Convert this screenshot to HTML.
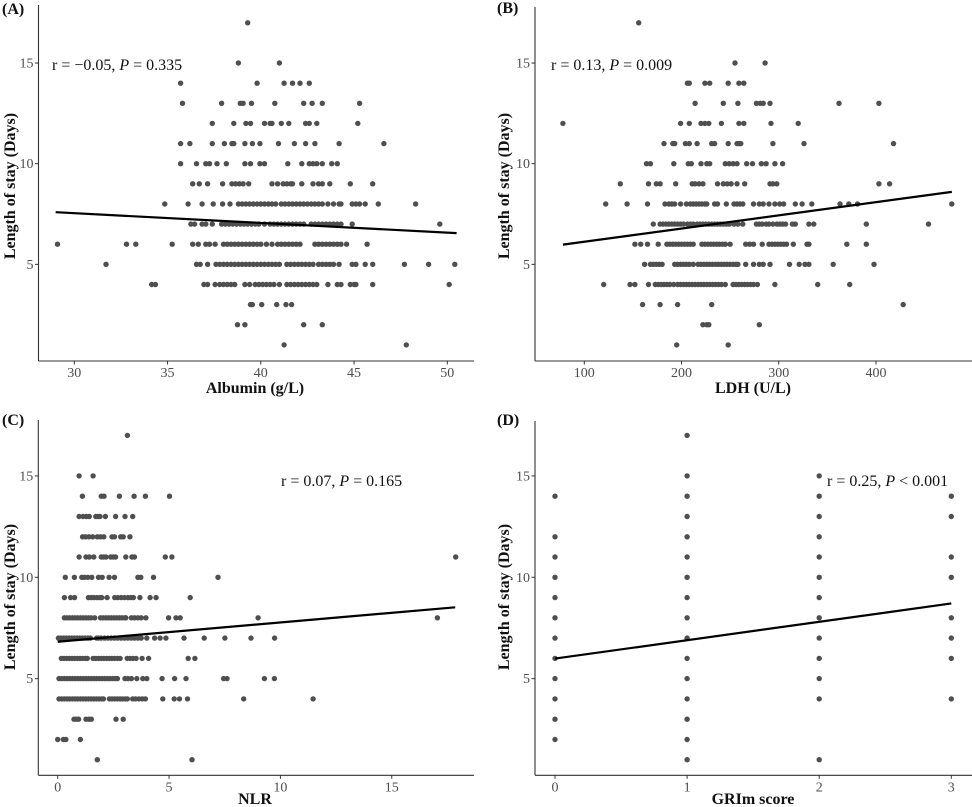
<!DOCTYPE html>
<html><head><meta charset="utf-8">
<style>
html,body{margin:0;padding:0;background:#fff;}
svg{display:block;font-family:"Liberation Serif",serif;}
</style></head>
<body>
<svg id="fig" width="972" height="807" viewBox="0 0 972 807" xmlns="http://www.w3.org/2000/svg"></svg>
<script>
// ---- Panel A: Albumin vs LOS, rows = [los, [albumin values]]
const albuminRows = [
[17,[39.3]],[15,[38.8,41.0]],[14,[35.7,39.8,41.25,41.7,42.1,42.6]],
[13,[35.8,37.9,38.9,39.05,39.5,40.75,42.3,42.75,43.3,45.3]],
[12,[37.4,38.55,39.2,39.45,40.2,40.5,40.6,41.1,41.5,42.4,42.6,43.0,45.2]],
[11,[35.7,36.2,37.4,38.05,38.45,38.55,39.15,39.55,39.95,40.95,41.8,42.4,42.9,44.2,46.6]],
[10,[35.7,36.55,37.05,37.25,37.65,38.15,39.15,39.45,39.95,40.2,41.45,42.2,42.6,42.8,43.0,43.3,43.8,44.1]],
[9,[36.35,36.7,37.15,37.95,38.45,38.65,38.85,39.05,39.35,40.6,40.9,41.2,41.4,41.6,41.7,42.2,42.8,43.1,43.3,43.7,44.8,46.0]],
[8,[34.85,36.1,36.85,37.45,37.95,38.35,38.8,39.0,39.2,39.4,39.6,39.8,40.0,40.2,40.4,40.6,40.8,41.1,41.3,41.5,41.7,41.9,42.1,42.3,42.5,42.7,42.9,43.1,43.3,43.6,43.9,44.2,44.3,44.9,45.1,45.3,45.6,46.3,48.3]],
[7,[36.25,36.45,36.85,37.05,37.4,37.9,38.1,38.3,38.5,38.7,38.9,39.1,39.3,39.5,39.7,39.9,40.2,40.5,40.7,40.9,41.1,41.3,41.5,41.7,41.9,42.1,42.3,42.7,42.9,43.1,43.3,43.5,43.7,43.9,44.1,44.3,44.9,49.6]],
[6,[29.1,32.8,33.3,35.25,36.35,36.65,37.05,37.25,37.55,38.0,38.2,38.4,38.6,38.8,39.0,39.2,39.4,39.6,39.8,40.0,40.3,40.6,40.9,41.1,41.3,41.5,41.7,41.9,42.1,42.9,43.1,43.3,43.5,43.7,43.9,44.1,44.3,44.6,45.7]],
[5,[31.7,36.55,36.75,37.15,37.6,37.8,38.0,38.2,38.4,38.6,38.8,39.0,39.2,39.4,39.6,39.8,40.0,40.2,40.4,40.6,40.8,41.0,41.4,41.6,41.8,42.0,42.2,42.4,42.6,42.8,43.1,43.3,43.5,43.7,43.9,44.2,44.9,45.1,45.6,46.0,47.7,49.0,50.4]],
[4,[34.15,34.35,36.95,37.15,37.55,37.8,38.0,38.2,38.4,38.6,39.15,39.4,39.7,39.9,40.1,40.3,40.5,40.7,41.0,41.4,41.6,41.8,42.0,42.2,42.4,42.6,42.8,43.0,43.6,44.1,44.3,44.8,45.0,45.1,46.0,50.1]],
[3,[39.45,39.55,40.05,40.85,41.35,41.65]],[2,[38.75,39.15,42.3,43.3]],[1,[41.25,47.8]]
];
const albuminTicks = [30,35,40,45,50];
const albuminFit = [[29.0,7.59],[50.5,6.55]];

// ---- Panel B: LDH vs LOS
const ldhRows = [
[17,[156]],[15,[255,286]],[14,[206,208,224,229,248,259,264]],
[13,[214,243,258,277,281,284,291,362,403]],
[12,[78,199,208,220,224,228,241,259,264,292,320]],
[11,[182,191,193,204,208,216,231,234,248,257,259,261,294,326,418]],
[10,[164,168,192,207,210,220,226,229,245,249,253,257,267,273,282,287,296,304]],
[9,[137,166,174,178,194,211,214,218,222,237,243,247,251,257,265,291,294,298,403,414]],
[8,[122,144,165,183,187,190,193,199,205,209,212,215,218,221,224,226,234,237,246,254,257,260,263,274,280,284,290,296,301,305,317,324,334,363,372,381,478]],
[7,[171,178,181,184,187,190,193,196,199,202,206,209,212,216,219,222,225,228,231,234,237,240,243,246,249,254,258,263,277,280,283,287,290,294,298,301,304,307,314,317,331,336,390,454]],
[6,[152,158,165,176,185,188,191,194,197,200,203,206,209,212,221,224,227,230,233,236,239,242,245,250,266,270,274,283,290,293,296,299,302,305,308,315,329,331,370,390]],
[5,[162,168,171,174,177,180,193,196,199,202,205,208,212,217,220,223,226,229,232,235,238,241,244,247,250,253,256,258,266,274,280,284,291,311,321,327,331,356,398]],
[4,[120,147,152,166,173,176,179,182,185,188,192,196,199,202,205,208,211,214,217,220,223,226,229,232,235,238,241,245,253,256,259,262,265,268,271,274,278,296,340,373]],
[3,[160,178,196,231,428]],[2,[222,226,228,280]],[1,[195,248]]
];
const ldhTicks = [100,200,300,400];
const ldhFit = [[78,5.98],[478,8.6]];

// ---- Panel C: NLR vs LOS
const nlrRows = [
[17,[3.13]],[15,[0.96,1.59]],[14,[1.11,1.96,2.08,2.77,3.43,3.94,5.02]],
[13,[0.96,1.14,1.29,1.42,1.71,1.81,1.9,2.14,2.6,3.02,3.37]],
[12,[1.12,1.25,1.4,1.57,1.78,1.92,2.07,2.44,2.55,2.83,2.94,3.24]],
[11,[0.96,1.27,1.42,1.62,1.96,2.05,2.17,2.38,2.5,2.6,3.06,3.33,3.45,4.83,5.13,17.87]],
[10,[0.34,0.75,1.08,1.2,1.35,1.53,1.83,2.0,2.31,2.55,3.6,3.73,4.3,7.2]],
[9,[0.3,0.58,0.76,1.38,1.5,1.62,1.75,1.88,1.98,2.22,2.56,2.7,2.85,3.0,3.15,3.28,3.4,3.69,4.15,4.42,5.95]],
[8,[0.3,0.42,0.54,0.66,0.78,0.9,1.02,1.14,1.26,1.38,1.5,1.66,1.92,2.04,2.16,2.28,2.4,2.52,2.64,2.76,2.88,3.0,3.06,3.31,3.45,3.6,3.75,3.96,4.98,5.31,5.5,9.0,17.05]],
[7,[0.03,0.15,0.27,0.39,0.51,0.63,0.75,0.87,0.99,1.11,1.23,1.35,1.47,1.75,1.83,1.95,2.1,2.25,2.4,2.55,2.7,2.85,3.0,3.15,3.3,3.45,3.6,3.75,4.0,4.35,4.6,4.86,5.67,6.58,7.51,8.68,9.74]],
[6,[0.16,0.28,0.4,0.52,0.64,0.76,0.88,1.0,1.12,1.24,1.33,1.59,1.71,1.83,1.95,2.07,2.19,2.31,2.43,2.55,2.68,2.8,3.12,3.25,3.38,3.52,3.79,4.08,5.86,6.16]],
[5,[0.06,0.18,0.3,0.42,0.54,0.66,0.78,0.9,1.02,1.14,1.26,1.38,1.5,1.62,1.74,1.86,1.98,2.1,2.22,2.34,2.46,2.58,2.68,3.02,3.15,3.31,3.55,3.82,4.0,4.69,5.25,5.76,7.45,7.6,9.28,9.73]],
[4,[0.06,0.18,0.3,0.42,0.54,0.66,0.78,0.9,1.02,1.14,1.26,1.38,1.5,1.62,1.74,1.86,1.98,2.05,2.32,2.44,2.56,2.68,2.8,2.92,3.04,3.13,3.37,3.5,3.65,3.8,3.94,4.72,5.23,5.47,5.83,8.35,11.47]],
[3,[0.73,0.84,0.94,1.27,1.4,1.51,2.62,2.94]],[2,[0.0,0.25,0.37,1.02]],[1,[1.78,6.03]]
];
const nlrTicks = [0,5,10,15];
const nlrFit = [[0,6.82],[17.85,8.52]];

// ---- Panel D: GRIm score vs LOS
const grimRows = [
[17,[1]],[15,[1,2]],[14,[0,1,2,3]],[13,[1,2,3]],[12,[0,1,2]],[11,[0,1,2,3]],
[10,[0,1,2,3]],[9,[0,1,2]],[8,[0,1,2,3]],[7,[0,1,2,3]],[6,[0,1,2,3]],
[5,[0,1,2]],[4,[0,1,2,3]],[3,[0,1]],[2,[0,1]],[1,[1,2]]
];
const grimTicks = [0,1,2,3];
const grimFit = [[0,5.99],[3,8.71]];

const losTicks = [5,10,15];

const NS = "http://www.w3.org/2000/svg";
const svg = document.getElementById('fig');
function mk(tag, attrs, parent){ const e=document.createElementNS(NS,tag); for(const k in attrs) e.setAttribute(k,attrs[k]); (parent||svg).appendChild(e); return e; }

const panels = [
 {id:'a', tag:'(A)', tagX:2, tagY:14, rows:albuminRows, ticks:albuminTicks, fit:albuminFit,
  x0:30, px0:74.3, kx:18.65, axL:38.5, axR:474, axT:5, axB:361, y10:163.7, ky:20.13,
  xlab:'Albumin (g/L)', xlabX:255, xlabY:393, ylabX:15, ylabY:186,
  ann:['r = −0.05, ','0.335'], annX:52, annY:70},
 {id:'b', tag:'(B)', tagX:497, tagY:13, rows:ldhRows, ticks:ldhTicks, fit:ldhFit,
  x0:100, px0:584.3, kx:0.9723, axL:535, axR:972, axT:7, axB:361, y10:163.7, ky:20.13,
  xlab:'LDH (U/L)', xlabX:753, xlabY:393, ylabX:509, ylabY:186,
  ann:['r = 0.13, ','0.009'], annX:551, annY:70},
 {id:'c', tag:'(C)', tagX:2, tagY:425, rows:nlrRows, ticks:nlrTicks, fit:nlrFit,
  x0:0, px0:57.7, kx:22.27, axL:38.3, axR:474, axT:420, axB:775.3, y10:577.3, ky:20.27,
  xlab:'NLR', xlabX:255, xlabY:804, ylabX:15, ylabY:597,
  ann:['r = 0.07, ','0.165'], annX:281, annY:486},
 {id:'d', tag:'(D)', tagX:497, tagY:425, rows:grimRows, ticks:grimTicks, fit:grimFit,
  x0:0, px0:555, kx:132.1, axL:535, axR:972, axT:421, axB:775.3, y10:577.3, ky:20.27,
  xlab:'GRIm score', xlabX:753, xlabY:804, ylabX:509, ylabY:597,
  ann:['r = 0.25, ','< 0.001'], annX:827, annY:486}
];

panels.forEach(p=>{
  const xs = v => p.px0 + (v - p.x0)*p.kx;
  const ys = d => p.y10 - (d - 10)*p.ky;
  const g = mk('g',{});
  
  

  const tg = mk('text',{x:p.tagX,y:p.tagY,'font-size':16,'font-weight':'bold',fill:'#111'},g);
  tg.textContent = p.tag;
  
  

  // points
  const pts = mk('g',{fill:'#4f4f4f'},g);
  
  
  p.rows.forEach(r=>{
    r[1].forEach(v=>{
      const c = mk('circle',{cx:xs(v).toFixed(1), cy:ys(r[0]).toFixed(1), r:2.7}, pts);
      
      
    });
  });

  // fit line
  const ln = mk('line',{x1:xs(p.fit[0][0]),y1:ys(p.fit[0][1]),x2:xs(p.fit[1][0]),y2:ys(p.fit[1][1]),stroke:'#000','stroke-width':2.2},g);
  
  

  // axes
  const ya = mk('line',{x1:p.axL,y1:p.axT,x2:p.axL,y2:p.axB,stroke:'#333','stroke-width':1.1},g);
  
  
  const xa = mk('line',{x1:p.axL,y1:p.axB,x2:p.axR,y2:p.axB,stroke:'#333','stroke-width':1.1},g);
  
  

  losTicks.forEach(t=>{
    const y = ys(t);
    mk('line',{x1:p.axL-3.5,y1:y,x2:p.axL,y2:y,stroke:'#333','stroke-width':1},g);
    const tx = mk('text',{x:p.axL-5,y:y+4.5,'font-size':14,'text-anchor':'end',fill:'#4d4d4d'},g);
    tx.textContent = t;
    
    
  });
  p.ticks.forEach(t=>{
    const x = xs(t);
    mk('line',{x1:x,y1:p.axB,x2:x,y2:p.axB+3.5,stroke:'#333','stroke-width':1},g);
    const tx = mk('text',{x:x,y:p.axB+16,'font-size':14,'text-anchor':'middle',fill:'#4d4d4d'},g);
    tx.textContent = t;
    
    
  });

  const xl = mk('text',{x:p.xlabX,y:p.xlabY,'font-size':16,'font-weight':'bold','text-anchor':'middle',fill:'#111'},g);
  xl.textContent = p.xlab;
  
  
  const yl = mk('text',{x:p.ylabX,y:p.ylabY,'font-size':16,'font-weight':'bold','text-anchor':'middle',fill:'#111',transform:'rotate(-90 '+p.ylabX+' '+p.ylabY+')'},g);
  yl.textContent = 'Length of stay (Days)';
  
  

  const an = mk('text',{x:p.annX,y:p.annY,'font-size':16,fill:'#111'},g);
  
  
  const s1 = mk('tspan',{},an); s1.textContent = p.ann[0];
  const s2 = mk('tspan',{'font-style':'italic'},an); s2.textContent = 'P';
  const s3 = mk('tspan',{},an); s3.textContent = (p.ann[1].charAt(0)==='<' ? ' ' : ' = ') + p.ann[1];
});
</script>
</body></html>
